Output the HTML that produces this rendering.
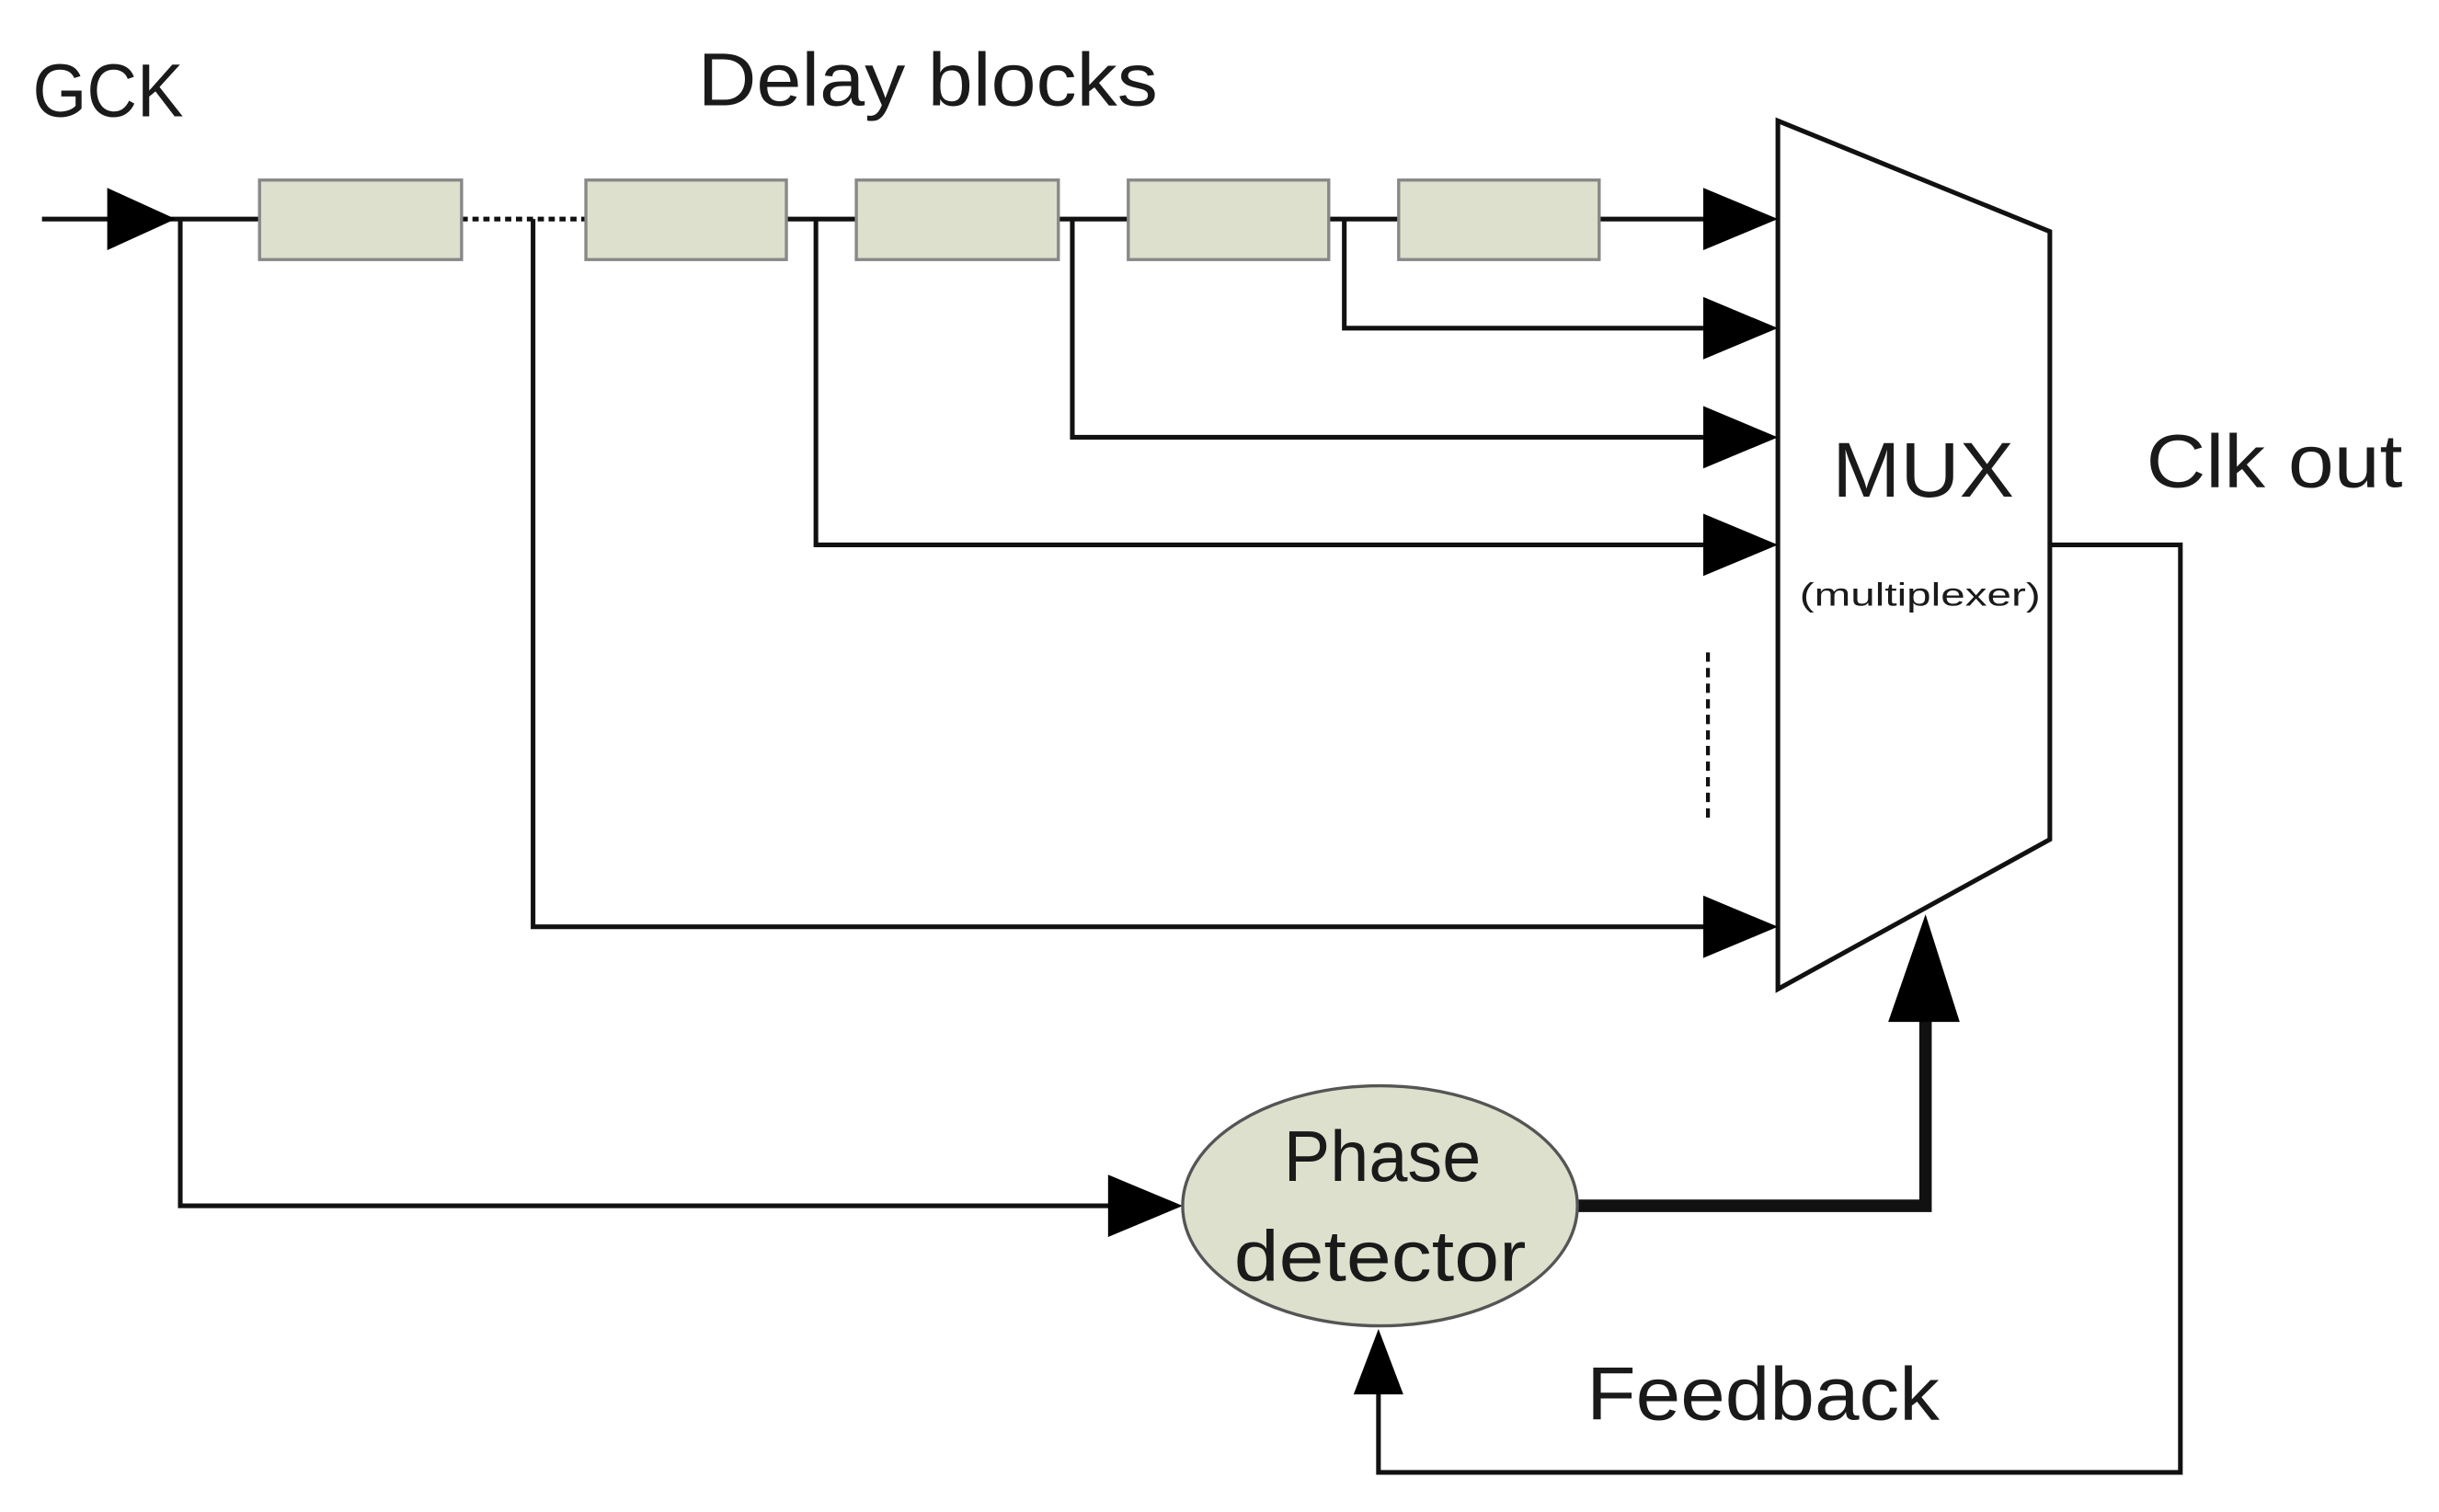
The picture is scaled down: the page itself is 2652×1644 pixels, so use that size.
<!DOCTYPE html>
<html><head><meta charset="utf-8"><style>html,body{margin:0;padding:0;background:#fff}svg{display:block}</style></head>
<body>
<svg width="2652" height="1644" viewBox="0 0 1560 967" preserveAspectRatio="none" xmlns="http://www.w3.org/2000/svg" font-family="Liberation Sans, sans-serif" fill="#1a1a1a">
<rect width="1560" height="967" fill="#fff"/>
<g transform="translate(1,0.5) scale(0.994,0.997)">
<g stroke="#111" stroke-width="3" fill="none">
<line x1="26" y1="140" x2="166" y2="140"/>
<line x1="296" y1="140" x2="376" y2="140" stroke-dasharray="4,3"/>
<line x1="505" y1="140" x2="550" y2="140"/>
<line x1="680" y1="140" x2="725" y2="140"/>
<line x1="854" y1="140" x2="899" y2="140"/>
<line x1="1028" y1="140" x2="1100" y2="140"/>
<polyline points="864,140 864,210 1100,210"/>
<polyline points="689,140 689,280 1100,280"/>
<polyline points="524,140 524,349 1100,349"/>
<polyline points="342,140 342,594 1100,594"/>
<polyline points="115,140 115,773 720,773"/>
<polyline points="1318,349 1402,349 1402,944 886,944 886,890"/>
<line x1="1098" y1="418" x2="1098" y2="524" stroke-width="2.5" stroke-dasharray="6,4"/>
<polygon points="1143,77 1318,148 1318,538 1143,634" stroke-width="3"/>
<polyline points="1014,773 1238,773 1238,650" stroke-width="8"/>
</g>
<g fill="#000">
<polygon points="68,120 112,140 68,160"/>
<polygon points="1095,120 1143,140 1095,160"/>
<polygon points="1095,190 1143,210 1095,230"/>
<polygon points="1095,260 1143,280 1095,300"/>
<polygon points="1095,329 1143,349 1095,369"/>
<polygon points="1095,574 1143,594 1095,614"/>
<polygon points="712,753 760,773 712,793"/>
<polygon points="870,894 886,852 902,894"/>
<polygon points="1214,655 1238,586 1260,655"/>
</g>
<g fill="#dde0cc" stroke="#888" stroke-width="2">
<rect x="166" y="115" width="130" height="51"/>
<rect x="376" y="115" width="129" height="51"/>
<rect x="550" y="115" width="130" height="51"/>
<rect x="725" y="115" width="129" height="51"/>
<rect x="899" y="115" width="129" height="51"/>
<ellipse cx="887" cy="773" rx="127" ry="77" stroke="#555"/>
</g>
<text x="20" y="74" font-size="48" textLength="97" lengthAdjust="spacingAndGlyphs">GCK</text>
<text x="448" y="67" font-size="48" textLength="296" lengthAdjust="spacingAndGlyphs">Delay blocks</text>
<text x="1178" y="318" font-size="50" textLength="117" lengthAdjust="spacingAndGlyphs">MUX</text>
<text x="1157" y="388" font-size="21" textLength="155" lengthAdjust="spacingAndGlyphs">(multiplexer)</text>
<text x="1380" y="312" font-size="48" textLength="165" lengthAdjust="spacingAndGlyphs">Clk out</text>
<text x="825" y="757" font-size="46" textLength="127" lengthAdjust="spacingAndGlyphs">Phase</text>
<text x="793" y="821" font-size="46" textLength="188" lengthAdjust="spacingAndGlyphs">detector</text>
<text x="1020" y="910" font-size="48" textLength="227" lengthAdjust="spacingAndGlyphs">Feedback</text>
</g>
</svg>
</body></html>
